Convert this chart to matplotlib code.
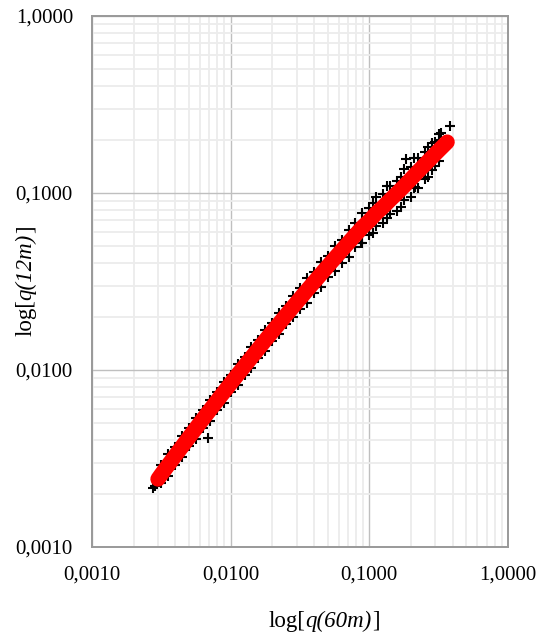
import matplotlib
matplotlib.use('Agg')
import matplotlib.pyplot as plt
from matplotlib.ticker import FixedLocator, FixedFormatter, LogLocator, NullFormatter
from matplotlib.transforms import offset_copy

plt.rcParams['font.family'] = ['Liberation Serif', 'DejaVu Serif']

# ---- data ----
tick_vals = [0.001, 0.01, 0.1, 1.0]
tick_labels = ['0,0010', '0,0100', '0,1000', '1,0000']

# fitted series (red)
red_x = [0.00299, 0.003162, 0.003548, 0.003981, 0.004467, 0.005012, 0.005623, 0.006310,
         0.007079, 0.007943, 0.008913, 0.01, 0.01122, 0.01259, 0.01413, 0.01585, 0.01778,
         0.01995, 0.02239, 0.02512, 0.02818, 0.03162, 0.03548, 0.03981, 0.04467, 0.05012,
         0.05623, 0.06310, 0.07079, 0.07943, 0.08913, 0.1, 0.1122, 0.1259, 0.1413, 0.1585,
         0.1778, 0.1995, 0.2239, 0.2512, 0.2818, 0.3162, 0.364]
red_y = [0.00242, 0.002574, 0.002906, 0.003280, 0.003698, 0.004168, 0.004693, 0.005279,
         0.005933, 0.006665, 0.007481, 0.008390, 0.009404, 0.010529, 0.01178, 0.01317, 0.01473,
         0.01643, 0.01832, 0.02043, 0.02276, 0.02532, 0.02816, 0.03129, 0.03474, 0.03856,
         0.04275, 0.04735, 0.05241, 0.05797, 0.06408, 0.0697, 0.0769, 0.0835, 0.0915, 0.0998,
         0.1092, 0.1200, 0.1319, 0.1447, 0.1587, 0.1739, 0.194]

# observations (black +)
obs_x = [0.00275, 0.00285, 0.0029,
         0.003162, 0.003162, 0.003548, 0.003548, 0.003981, 0.003981, 0.004467, 0.004467,
         0.005012, 0.005012, 0.005623, 0.005623, 0.006310, 0.006310, 0.007079, 0.007079,
         0.007943, 0.007943, 0.008913, 0.008913, 0.01, 0.01, 0.01122, 0.01122,
         0.01259, 0.01259, 0.01413, 0.01413, 0.01585, 0.01585, 0.01778, 0.01778,
         0.01995, 0.01995, 0.02239, 0.02239, 0.02512, 0.02512, 0.02818, 0.02818,
         0.03162, 0.03162, 0.03548, 0.03548, 0.03981, 0.03981, 0.04467, 0.04467,
         0.05012, 0.05012, 0.05623, 0.05623, 0.06310, 0.06310, 0.07079, 0.07079,
         0.07943, 0.07943, 0.08913, 0.08913, 0.1, 0.1, 0.1122, 0.1122,
         0.1259, 0.1259, 0.1413, 0.1413, 0.1585, 0.1585, 0.1778, 0.1778,
         0.1995, 0.1995, 0.2239, 0.2239, 0.2512, 0.2512, 0.2818, 0.2818, 0.3162, 0.3162,
         0.106, 0.106, 0.1334, 0.1334, 0.1679, 0.1679, 0.2113, 0.2113, 0.266, 0.266,
         0.2985, 0.2985,
         0.00684, 0.383, 0.33, 0.1845, 0.214, 0.0875, 0.265, 0.317]
obs_y = [0.00215, 0.00222, 0.00236,
         0.002888, 0.002293, 0.003336, 0.002531, 0.003680, 0.002922, 0.004245, 0.003221,
         0.004676, 0.003714, 0.005388, 0.004088, 0.005923, 0.004704, 0.006811, 0.005168,
         0.007478, 0.005939, 0.008588, 0.006516, 0.009414, 0.007475, 0.010796, 0.008191,
         0.011814, 0.009381, 0.013523, 0.010260, 0.014777, 0.011734, 0.016910, 0.012830,
         0.018434, 0.014639, 0.021031, 0.015957, 0.022922, 0.018203, 0.026128, 0.019824,
         0.029067, 0.022054, 0.033088, 0.023964, 0.035921, 0.027254, 0.040820, 0.029564,
         0.044267, 0.033586, 0.050231, 0.036380, 0.054358, 0.040295, 0.061582, 0.043605,
         0.068115, 0.049332, 0.077024, 0.052097, 0.081898, 0.057990, 0.094587, 0.065442,
         0.098113, 0.067886, 0.109983, 0.076128, 0.117265, 0.079241, 0.137483, 0.090854,
         0.141000, 0.095280, 0.158544, 0.107235, 0.170023, 0.120390, 0.190757, 0.135054,
         0.199637, 0.151467,
         0.088, 0.0595, 0.110, 0.0727, 0.1227, 0.0829, 0.1585, 0.1071, 0.1822, 0.1233,
         0.1953, 0.1414,
         0.00413, 0.239, 0.218, 0.1556, 0.108, 0.0522, 0.138, 0.215]

x_label_parts = [('log[', 'normal'), ('q(60m)', 'italic'), (']', 'normal')]
y_label_parts = [('log[', 'normal'), ('q(12m)', 'italic'), (']', 'normal')]

# ---- figure ----
W, H = 547, 640
fig = plt.figure(figsize=(W / 100, H / 100), dpi=100)
L, R, T, B = 92, 508, 16, 547
ax = fig.add_axes([L / W, 1 - B / H, (R - L) / W, (B - T) / H])
ax.set_xscale('log')
ax.set_yscale('log')
ax.set_xlim(tick_vals[0], tick_vals[-1])
ax.set_ylim(tick_vals[0], tick_vals[-1])

for axis in (ax.xaxis, ax.yaxis):
    axis.set_major_locator(FixedLocator(tick_vals))
    axis.set_major_formatter(FixedFormatter(tick_labels))
    axis.set_minor_locator(LogLocator(base=10, subs=range(2, 10), numticks=20))
    axis.set_minor_formatter(NullFormatter())

ax.grid(True, which='minor', color='#ececec', lw=1.3, zorder=0)
ax.grid(True, which='major', color='#bfbfbf', lw=1.0, zorder=0)
ax.set_axisbelow(True)
ax.tick_params(which='both', length=0, pad=13.7, labelsize=15, colors='black')
for s in ax.spines.values():
    s.set_color('#999999')
    s.set_linewidth(1.4)

ax.plot(obs_x, obs_y, ls='none', marker='+', ms=7.5, mew=1.5, color='black', zorder=2)
ax.plot(red_x, red_y, color='#ff0000', lw=11, solid_capstyle='round',
        solid_joinstyle='round', zorder=3)


def multi_text(parts, cx, cy, size, rotation=0):
    renderer = fig.canvas.get_renderer()
    widths = []
    for txt, style in parts:
        t = fig.text(0, 0, txt, fontsize=size, style=style)
        bb = t.get_window_extent(renderer)
        widths.append(bb.width)
        t.remove()
    total = sum(widths)
    pos = -total / 2
    for (txt, style), w in zip(parts, widths):
        if rotation == 0:
            tr = offset_copy(fig.transFigure, fig=fig, x=pos, y=0, units='dots')
        else:
            tr = offset_copy(fig.transFigure, fig=fig, x=0, y=pos, units='dots')
        fig.text(cx, cy, txt, fontsize=size, style=style, transform=tr,
                 ha='left' if rotation == 0 else 'center',
                 va='center' if rotation == 0 else 'bottom',
                 rotation=rotation, rotation_mode='anchor' if rotation == 0 else 'default')
        pos += w


multi_text(x_label_parts, 324 / W, 1 - 621 / H, 16.5)
multi_text(y_label_parts, 26 / W, 1 - 281 / H, 16.5, rotation=90)

fig.savefig('out.png', dpi=100)
